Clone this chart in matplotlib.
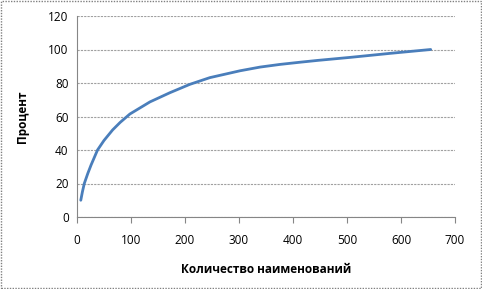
import matplotlib.pyplot as plt
from matplotlib.patches import Rectangle

# Data
items = [7, 10, 13.5, 20, 26, 38, 50, 66, 80, 98, 135, 172, 209, 246, 302, 339, 376, 413, 446, 506, 580, 655]
percent = [10, 15, 20, 26, 31, 40, 45.7, 52, 56.5, 61.5, 68.7, 74.2, 79.2, 83.2, 87.3, 89.5, 91.1, 92.4, 93.5, 95.3, 97.7, 100]

x_ticks = [0, 100, 200, 300, 400, 500, 600, 700]
y_ticks = [0, 20, 40, 60, 80, 100, 120]

plt.rcParams['font.family'] = ['Open Sans', 'DejaVu Sans']

fig = plt.figure(figsize=(4.82, 2.89), dpi=100)
ax = fig.add_axes([77 / 482, 1 - 217 / 289, 378 / 482, 201 / 289])

ax.plot(items, percent, color="#4A7EBB", linewidth=2.0, solid_capstyle="round",
        solid_joinstyle="round")

ax.set_xlim(0, 700)
ax.set_ylim(0, 120)
ax.set_xticks(x_ticks)
ax.set_yticks(y_ticks)
ax.tick_params(axis="x", direction="out", length=4, color="#868686", labelsize=8.5, pad=8)
ax.tick_params(axis="y", length=0, labelsize=8.5, pad=6)
ax.grid(axis="y", color="#A0A0A0", linestyle=(0, (2, 1)), linewidth=0.8)
for s in ["top", "right"]:
    ax.spines[s].set_visible(False)
ax.spines["left"].set_color("#868686")
ax.spines["bottom"].set_color("#868686")
ax.spines["bottom"].set_linestyle((0, (2, 1)))

ax.set_xlabel("Количество наименований", fontsize=8.5, fontweight="bold", labelpad=12)
ax.set_ylabel("Процент", fontsize=8.5, fontweight="bold", labelpad=14)

# outer chart border
fig.patches.append(Rectangle((0.002, 0.003), 0.995, 0.994, transform=fig.transFigure,
                             fill=False, edgecolor="#808080", linestyle=(0, (1, 1)), linewidth=1))

fig.savefig("out.png", dpi=100)
